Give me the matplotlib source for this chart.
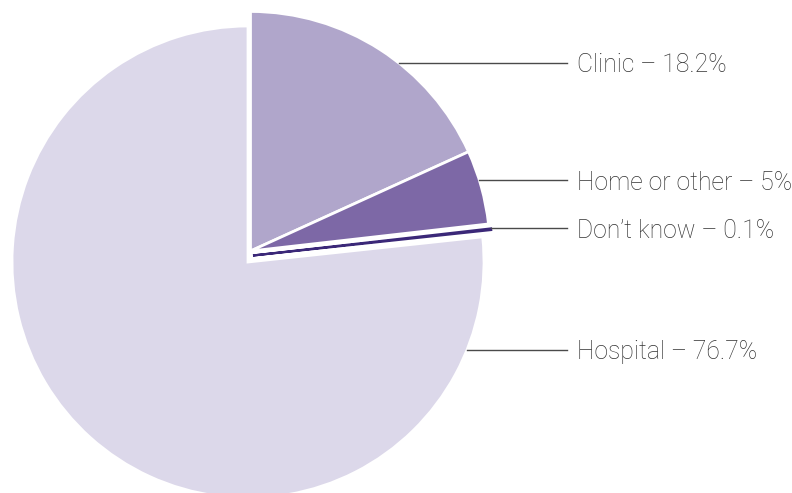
import numpy as np
import matplotlib
matplotlib.use("Agg")
import matplotlib.pyplot as plt
from matplotlib.transforms import Affine2D

# Place of delivery shares (%)
labels = ["Clinic", "Home or other", "Don\u2019t know", "Hospital"]
shares = [18.2, 5, 0.1, 76.7]
colors = ["#b0a6cb", "#7d68a6", "#3b2878", "#dcd8ea"]

# label rows, in pixels from the top of the figure
label_rows = [63, 180, 228, 350]

W, H = 792, 493
PX = 236.0            # pixels per unit radius
CX, CY = 248, 262     # pie centre in pixels

fig = plt.figure(figsize=(W / 100, H / 100), dpi=100)
ax = fig.add_axes([0, 0, 1, 1])

wedges, _ = ax.pie(shares, colors=colors, startangle=90, counterclock=False,
                   wedgeprops=dict(edgecolor="white", linewidth=2))

# pull the smaller slices away from the hospital slice
shift_small = (2.5 / PX, 11 / PX)
shift_dk = (5 / PX, 6.5 / PX)
offsets = [shift_small, shift_small, shift_dk, (0, 0)]
for w, (dx, dy) in zip(wedges, offsets):
    w.set_transform(Affine2D().translate(dx, dy) + ax.transData)
for w in wedges[:3]:
    w.set_radius(1.015)

# the tiny slice is drawn as a thick dark sliver
wedges[2].set_edgecolor(colors[2])
wedges[2].set_linewidth(1.6)
wedges[2].set_zorder(5)

ax.set_xlim(-CX / PX, (W - CX) / PX)
ax.set_ylim(-(H - CY) / PX, CY / PX)
ax.set_aspect("equal")
ax.axis("off")

line_end = (567 - CX) / PX
text_x = (577 - CX) / PX
for w, (dx, dy), lab, val, row in zip(wedges, offsets, labels, shares, label_rows):
    y = (CY - row) / PX
    r = w.r
    x0 = dx + np.sqrt(max(r ** 2 - (y - dy) ** 2, 0))
    ax.plot([x0, line_end], [y, y], color="#4a4a4a", linewidth=1, zorder=6)
    ax.text(text_x, y, f"{lab} \u2013 {val:g}%", va="center_baseline", ha="left",
            fontsize=17.8, color="#333333", family=["Roboto", "DejaVu Sans"],
            fontweight="light")

fig.savefig("out.png", dpi=100)
